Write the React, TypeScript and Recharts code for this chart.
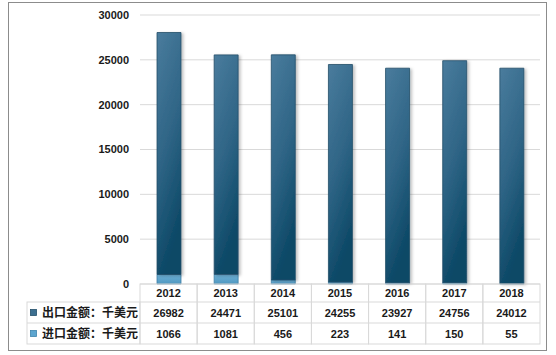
import React from "react";
import { BarChart, Bar, XAxis, YAxis, CartesianGrid } from "recharts";

const years = ["2012", "2013", "2014", "2015", "2016", "2017", "2018"];
const exportValues = [26982, 24471, 25101, 24255, 23927, 24756, 24012];
const importValues = [1066, 1081, 456, 223, 141, 150, 55];
const yTicks = [0, 5000, 10000, 15000, 20000, 25000, 30000];
const exportLabel = "出口金额：千美元";
const importLabel = "进口金额：千美元";

const data = years.map((year, i) => ({
  year,
  exportValue: exportValues[i],
  importValue: importValues[i],
}));

const W = 556;
const H = 355;
const LEFT = 140;
const RIGHT = 16;
const BAND = (W - LEFT - RIGHT) / years.length;
const ROW1 = 18;
const ROW2 = 21;
const ROW3 = 21;
const GRID = "#d9d9d9";
const TEXT = "#1a1a1a";
const NUM_FONT = "'Liberation Sans', Arial, sans-serif";
const CJK_FONT = "'Noto Sans CJK SC', 'Noto Sans', sans-serif";

function TableTick(props: any) {
  const { x, y, payload, index } = props;
  const i = years.indexOf(payload.value);
  const left = x - BAND / 2;
  const r2 = y + ROW1;
  const r3 = r2 + ROW2;
  const bottom = r3 + ROW3;
  return (
    <g>
      <rect x={left} y={y} width={BAND} height={bottom - y} fill="none" stroke={GRID} />
      <line x1={left} x2={left + BAND} y1={r2} y2={r2} stroke={GRID} />
      <line x1={left} x2={left + BAND} y1={r3} y2={r3} stroke={GRID} />
      <text x={x} y={y + ROW1 / 2 + 4} textAnchor="middle" fontSize={11} fontWeight="bold" fill={TEXT} fontFamily={NUM_FONT}>
        {payload.value}
      </text>
      <text x={x} y={r2 + ROW2 / 2 + 4} textAnchor="middle" fontSize={11} fontWeight="bold" fill={TEXT} fontFamily={NUM_FONT}>
        {exportValues[i]}
      </text>
      <text x={x} y={r3 + ROW3 / 2 + 4} textAnchor="middle" fontSize={11} fontWeight="bold" fill={TEXT} fontFamily={NUM_FONT}>
        {importValues[i]}
      </text>
      {index === 0 && (
        <g>
          <rect x={27} y={r2} width={left - 27} height={bottom - r2} fill="none" stroke={GRID} />
          <line x1={27} x2={left} y1={r3} y2={r3} stroke={GRID} />
          <rect x={30.5} y={r2 + ROW2 / 2 - 3} width={6} height={6} fill="#3d6f90" stroke="#24506c" strokeWidth={0.8} />
          <rect x={30.5} y={r3 + ROW3 / 2 - 3} width={6} height={6} fill="#5da5cf" stroke="#3f84ac" strokeWidth={0.8} />
          <text x={42} y={r2 + ROW2 / 2 + 4.5} fontSize={12} fontWeight="bold" fill={TEXT} fontFamily={CJK_FONT}>
            {exportLabel}
          </text>
          <text x={42} y={r3 + ROW3 / 2 + 4.5} fontSize={12} fontWeight="bold" fill={TEXT} fontFamily={CJK_FONT}>
            {importLabel}
          </text>
        </g>
      )}
    </g>
  );
}

export default function App() {
  return (
    <div style={{ position: "absolute", left: 0, top: 0, width: W, height: H, background: "#fff" }}>
      <div
        style={{
          position: "absolute",
          left: 8,
          top: 2,
          width: 537,
          height: 347,
          border: "1px solid #8c8c8c",
        }}
      />
      <BarChart
        width={W}
        height={H}
        data={data}
        barSize={24}
        margin={{ top: 15, right: RIGHT, left: 0, bottom: 11 }}
        style={{ position: "absolute", left: 0, top: 0 }}
      >
        <defs>
          <linearGradient id="gradExport" x1="0" y1="0" x2="0.3" y2="1">
            <stop offset="0%" stopColor="#4a7c9d" />
            <stop offset="55%" stopColor="#2e6485" />
            <stop offset="100%" stopColor="#0c4866" />
          </linearGradient>
          <linearGradient id="gradImport" x1="0" y1="0" x2="0" y2="1">
            <stop offset="0%" stopColor="#6fb2d8" />
            <stop offset="100%" stopColor="#4f97c0" />
          </linearGradient>
          <filter id="barShadow" x="-20%" y="-5%" width="150%" height="115%">
            <feDropShadow dx="2" dy="1" stdDeviation="1.5" floodColor="#000" floodOpacity="0.25" />
          </filter>
        </defs>
        <CartesianGrid horizontal vertical={false} stroke={GRID} />
        <XAxis
          dataKey="year"
          height={ROW1 + ROW2 + ROW3}
          axisLine={false}
          tickLine={false}
          tickSize={0}
          tickMargin={0}
          interval={0}
          tick={<TableTick />}
        />
        <YAxis
          width={LEFT}
          domain={[0, 30000]}
          ticks={yTicks}
          axisLine={false}
          tickLine={false}
          tickMargin={5}
          interval={0}
          tick={{ fontSize: 11, fontWeight: "bold", fill: TEXT, fontFamily: NUM_FONT }}
        />
        <Bar
          dataKey="importValue"
          stackId="a"
          fill="url(#gradImport)"
          stroke="#3f7fa5"
          strokeWidth={0.8}
          isAnimationActive={false}
        />
        <Bar
          dataKey="exportValue"
          stackId="a"
          fill="url(#gradExport)"
          stroke="#234e68"
          strokeWidth={0.8}
          filter="url(#barShadow)"
          isAnimationActive={false}
        />
      </BarChart>
    </div>
  );
}
